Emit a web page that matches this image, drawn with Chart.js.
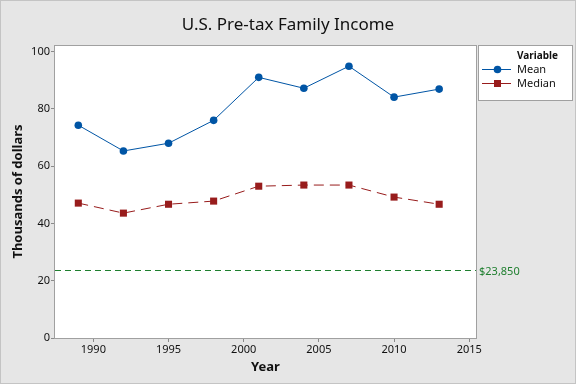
<!DOCTYPE html>
<html>
<head>
<meta charset="utf-8">
<title>U.S. Pre-tax Family Income</title>
<script src="https://cdn.jsdelivr.net/npm/chart.js@4"></script>
<style>
  html, body { margin: 0; padding: 0; background: #e6e6e6; }
  #wrap { width: 576px; height: 384px; }
</style>
</head>
<body>
<div id="wrap"><canvas id="grafico" width="576" height="384"></canvas></div>
<script>
"use strict";

// datos (miles de dolares)
var years = [1989, 1992, 1995, 1998, 2001, 2004, 2007, 2010, 2013];
var meanIncome = [74.3, 65.3, 68.0, 76.0, 91.0, 87.2, 94.9, 84.1, 86.9];
var medianIncome = [47.1, 43.6, 46.7, 47.8, 53.0, 53.4, 53.4, 49.2, 46.7];
var yTicks = [0, 20, 40, 60, 80, 100];
var xTicks = [1990, 1995, 2000, 2005, 2010, 2015];
var refValue = 23.85;
var refLabel = "$23,850";

var FONT = "'Noto Sans', 'Open Sans', sans-serif";
var BLUE = "#0055a5";
var RED = "#981c1c";
var GREEN = "#1f7f2f";

function puntos(valores) {
    return years.map(function (y, i) { return { x: y, y: valores[i] }; });
}

var marcoPlugin = {
    id: "marco",
    beforeDraw: function (chart) {
        var ctx = chart.ctx, a = chart.chartArea;
        ctx.save();
        ctx.fillStyle = "#e6e6e6";
        ctx.fillRect(0, 0, chart.width, chart.height);
        ctx.strokeStyle = "#c4c4c4";
        ctx.lineWidth = 1;
        ctx.strokeRect(0.5, 0.5, chart.width - 1, chart.height - 1);
        ctx.fillStyle = "#ffffff";
        ctx.fillRect(a.left, a.top, a.right - a.left, a.bottom - a.top);
        ctx.restore();
    },
    beforeDatasetsDraw: function (chart) {
        // linea de referencia
        var ctx = chart.ctx, a = chart.chartArea;
        var y = Math.round(chart.scales.y.getPixelForValue(refValue)) + 0.5;
        ctx.save();
        ctx.strokeStyle = GREEN;
        ctx.lineWidth = 1;
        ctx.setLineDash([6, 4]);
        ctx.beginPath();
        ctx.moveTo(a.left, y);
        ctx.lineTo(a.right, y);
        ctx.stroke();
        ctx.setLineDash([]);
        ctx.fillStyle = GREEN;
        ctx.font = "11px " + FONT;
        ctx.textBaseline = "middle";
        ctx.textAlign = "left";
        ctx.fillText(refLabel, a.right + 3, y + 1);
        ctx.restore();
    },
    afterDraw: function (chart) {
        var ctx = chart.ctx, a = chart.chartArea;
        ctx.save();
        ctx.strokeStyle = "#a0a0a0";
        ctx.lineWidth = 1;
        ctx.strokeRect(Math.round(a.left) - 0.5, Math.round(a.top) + 0.5,
            Math.round(a.right - a.left) + 1, Math.round(a.bottom - a.top));

        // titulo
        ctx.fillStyle = "#111111";
        ctx.font = "17px " + FONT;
        ctx.textAlign = "center";
        ctx.textBaseline = "middle";
        ctx.fillText("U.S. Pre-tax Family Income", chart.width / 2, 25);

        // leyenda
        var lx = 478, ly = 45, lw = 94, lh = 55;
        ctx.fillStyle = "#ffffff";
        ctx.fillRect(lx, ly, lw, lh);
        ctx.strokeStyle = "#a0a0a0";
        ctx.strokeRect(lx + 0.5, ly + 0.5, lw, lh);
        ctx.fillStyle = "#111111";
        ctx.font = "bold 10px " + FONT;
        ctx.textAlign = "left";
        ctx.fillText("Variable", 517, 56);
        ctx.font = "11px " + FONT;
        var filas = [
            { nombre: "Mean", color: BLUE, forma: "circle", y: 69.5 },
            { nombre: "Median", color: RED, forma: "rect", y: 83.5 }
        ];
        filas.forEach(function (f) {
            ctx.strokeStyle = f.color;
            ctx.lineWidth = 1;
            ctx.beginPath();
            ctx.moveTo(482, f.y);
            ctx.lineTo(511, f.y);
            ctx.stroke();
            ctx.fillStyle = f.color;
            if (f.forma === "circle") {
                ctx.beginPath();
                ctx.arc(497.5, f.y, 3.8, 0, Math.PI * 2);
                ctx.fill();
            } else {
                ctx.fillRect(494, f.y - 3.5, 7, 7);
            }
            ctx.fillStyle = "#111111";
            ctx.fillText(f.nombre, 517, f.y);
        });
        ctx.restore();
    }
};

function cargaGrafico() {
    var grafico = document.getElementById("grafico").getContext("2d");
    new Chart(grafico, {
        type: "line",
        data: {
            datasets: [{
                label: "Mean",
                data: puntos(meanIncome),
                borderColor: BLUE,
                backgroundColor: BLUE,
                borderWidth: 1,
                pointStyle: "circle",
                pointRadius: 3.8,
                pointBorderWidth: 0,
                pointHoverRadius: 3.8
            }, {
                label: "Median",
                data: puntos(medianIncome),
                borderColor: RED,
                backgroundColor: RED,
                borderWidth: 1,
                borderDash: [10, 6],
                pointStyle: "rect",
                pointRadius: 5,
                pointBorderWidth: 0,
                pointHoverRadius: 5
            }]
        },
        options: {
            responsive: false,
            animation: false,
            events: [],
            layout: { padding: { top: 45, right: 100, left: 0, bottom: 0 } },
            plugins: {
                legend: { display: false },
                title: { display: false },
                tooltip: { enabled: false }
            },
            scales: {
                x: {
                    type: "linear",
                    min: 1987.45,
                    max: 2015.45,
                    afterFit: function (s) { s.height = 46; },
                    afterBuildTicks: function (s) {
                        s.ticks = xTicks.map(function (v) { return { value: v }; });
                    },
                    ticks: {
                        color: "#111111",
                        font: { family: FONT, size: 11 },
                        padding: 1,
                        maxRotation: 0,
                        callback: function (v) { return String(v); }
                    },
                    grid: { drawOnChartArea: false, drawTicks: true, tickLength: 4, color: "#8a8a8a" },
                    border: { display: false },
                    title: {
                        display: true,
                        text: "Year",
                        color: "#111111",
                        font: { family: FONT, size: 13, weight: "bold" },
                        padding: { top: 0, bottom: 9 }
                    }
                },
                y: {
                    min: 0,
                    max: 102.3,
                    afterFit: function (s) { s.width = 55; },
                    afterBuildTicks: function (s) {
                        s.ticks = yTicks.map(function (v) { return { value: v }; });
                    },
                    ticks: {
                        color: "#111111",
                        font: { family: FONT, size: 11 },
                        padding: 1
                    },
                    grid: { drawOnChartArea: false, drawTicks: true, tickLength: 4, color: "#8a8a8a" },
                    border: { display: false },
                    title: {
                        display: true,
                        text: "Thousands of dollars",
                        color: "#111111",
                        font: { family: FONT, size: 13, weight: "bold" },
                        padding: { top: 10, bottom: 0 }
                    }
                }
            }
        },
        plugins: [marcoPlugin]
    });
}

window.onload = function () {
    cargaGrafico();
};
</script>
</body>
</html>
